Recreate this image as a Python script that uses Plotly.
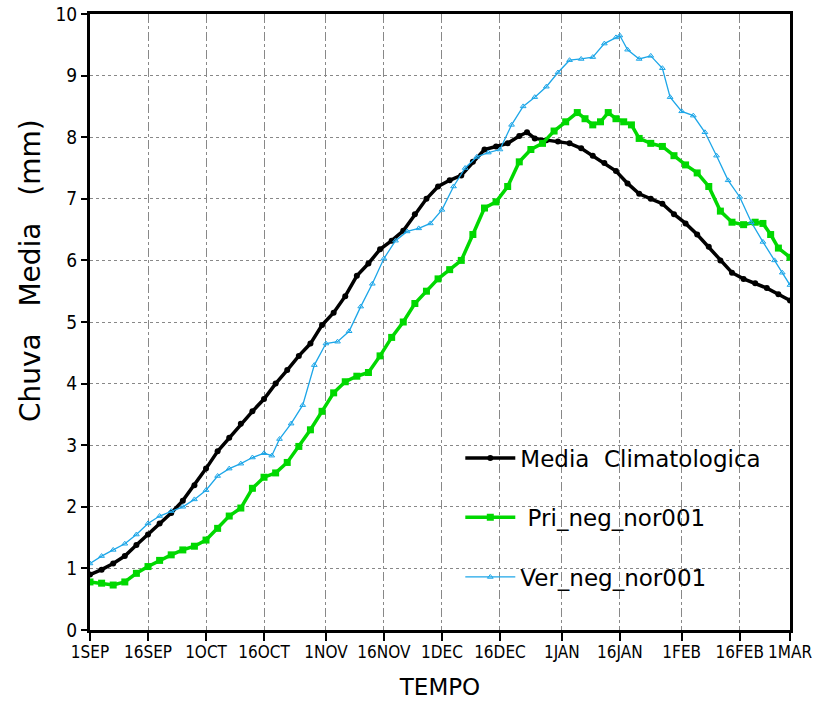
import plotly.graph_objects as go

# Day offsets from 1 September
tick_days = [0, 15, 30, 45, 61, 76, 91, 106, 122, 137, 153, 168, 181]
tick_labels = ["1SEP", "16SEP", "1OCT", "16OCT", "1NOV", "16NOV", "1DEC",
               "16DEC", "1JAN", "16JAN", "1FEB", "16FEB", "1MAR"]

media_days = [0, 3, 6, 9, 12, 15, 18, 21, 24, 27, 30, 33, 36, 39, 42, 45, 48, 51, 54, 57,
              60, 63, 66, 69, 72, 75, 78, 81, 84, 87, 90, 93, 96, 99, 102, 105, 108, 111,
              113, 115, 118, 121, 124, 127, 130, 133, 136, 139, 142, 145, 148, 151, 154,
              157, 160, 163, 166, 169, 172, 175, 178, 181]
media_vals = [0.9, 0.98, 1.08, 1.2, 1.38, 1.55, 1.73, 1.9, 2.1, 2.35, 2.62, 2.9, 3.12, 3.35,
              3.55, 3.75, 4.0, 4.22, 4.45, 4.65, 4.95, 5.15, 5.42, 5.75, 5.95, 6.18, 6.32,
              6.48, 6.75, 7.0, 7.2, 7.3, 7.38, 7.6, 7.8, 7.85, 7.9, 8.02, 8.08, 7.98, 7.95,
              7.93, 7.9, 7.82, 7.7, 7.58, 7.45, 7.25, 7.08, 7.0, 6.92, 6.75, 6.6, 6.42,
              6.22, 6.0, 5.8, 5.7, 5.63, 5.55, 5.45, 5.35]

pri_days = [0, 3, 6, 9, 12, 15, 18, 21, 24, 27, 30, 33, 36, 39, 42, 45, 48, 51, 54, 57, 60,
            63, 66, 69, 72, 75, 78, 81, 84, 87, 90, 93, 96, 99, 102, 105, 108, 111, 114,
            117, 120, 123, 126, 128, 130, 132, 134, 136, 138, 140, 142, 145, 148, 151, 154,
            157, 160, 163, 166, 169, 172, 174, 176, 178, 181]
pri_vals = [0.78, 0.76, 0.73, 0.78, 0.92, 1.03, 1.13, 1.22, 1.3, 1.36, 1.46, 1.65, 1.85,
            1.98, 2.3, 2.48, 2.55, 2.72, 2.98, 3.25, 3.55, 3.85, 4.03, 4.12, 4.18, 4.45,
            4.75, 5.0, 5.3, 5.5, 5.7, 5.85, 6.0, 6.42, 6.85, 6.95, 7.2, 7.6, 7.8, 7.9, 8.1,
            8.25, 8.4, 8.3, 8.2, 8.25, 8.4, 8.3, 8.25, 8.2, 7.98, 7.9, 7.85, 7.7, 7.55,
            7.42, 7.2, 6.8, 6.62, 6.58, 6.62, 6.6, 6.42, 6.2, 6.05]

ver_days = [0, 3, 6, 9, 12, 15, 18, 21, 24, 27, 30, 33, 36, 39, 42, 45, 47, 49, 52, 55, 58,
            61, 64, 67, 70, 73, 76, 79, 82, 85, 88, 91, 94, 97, 100, 103, 106, 109, 112,
            115, 118, 121, 124, 127, 130, 133, 136, 137, 139, 142, 145, 148, 150, 153, 156,
            159, 162, 165, 168, 171, 174, 177, 179, 181]
ver_vals = [1.08, 1.2, 1.3, 1.4, 1.55, 1.73, 1.85, 1.93, 2.0, 2.12, 2.27, 2.5, 2.62, 2.7,
            2.8, 2.87, 2.83, 3.1, 3.35, 3.65, 4.3, 4.65, 4.68, 4.85, 5.25, 5.62, 6.03, 6.32,
            6.47, 6.52, 6.6, 6.82, 7.2, 7.5, 7.68, 7.75, 7.8, 8.2, 8.5, 8.65, 8.82, 9.05,
            9.25, 9.27, 9.3, 9.52, 9.62, 9.65, 9.42, 9.27, 9.32, 9.12, 8.65, 8.42, 8.35,
            8.08, 7.7, 7.3, 7.03, 6.62, 6.3, 6.0, 5.8, 5.6]

FONT = "Liberation Sans Narrow, Arial Narrow, DejaVu Sans Condensed, Liberation Sans, sans-serif"
WIDE = "DejaVu Sans, Verdana, sans-serif"

fig = go.Figure()
fig.add_trace(go.Scatter(
    x=media_days, y=media_vals, name="Media  Climatologica", mode="lines+markers",
    line=dict(color="black", width=3.5), marker=dict(symbol="circle", size=6, color="black"),
    legend="legend"))
fig.add_trace(go.Scatter(
    x=pri_days, y=pri_vals, name=" Pri_neg_nor001", mode="lines+markers",
    line=dict(color="#00d800", width=3.5), marker=dict(symbol="square", size=7, color="#00d800"),
    legend="legend2"))
fig.add_trace(go.Scatter(
    x=ver_days, y=ver_vals, name="Ver_neg_nor001", mode="lines+markers",
    line=dict(color="#1ca6e8", width=1.3),
    marker=dict(symbol="triangle-up-open", size=5, color="#1ca6e8", line=dict(width=1)),
    legend="legend3"))

leg_common = dict(x=0.529, xanchor="left", yanchor="middle", bgcolor="rgba(0,0,0,0)",
                  font=dict(family=WIDE, size=23, color="black"), itemwidth=50)

fig.update_layout(
    width=817, height=708,
    margin=dict(l=90, r=27, t=14, b=78, autoexpand=False),
    paper_bgcolor="white", plot_bgcolor="white",
    font=dict(family=FONT, color="black"),
    showlegend=True,
    legend=dict(y=0.279, **leg_common),
    legend2=dict(y=0.183, **leg_common),
    legend3=dict(y=0.086, **leg_common),
    xaxis=dict(
        range=[0, 181], tickmode="array", tickvals=tick_days, ticktext=tick_labels,
        tickangle=0, ticks="outside", ticklen=8, tickwidth=1.5, tickcolor="black",
        showline=True, linewidth=3, linecolor="black", mirror=True, automargin=False,
        showgrid=True, gridcolor="#888888", griddash="dashdot", gridwidth=1,
        zeroline=False, tickfont=dict(size=17, family=FONT), ticklabeloverflow="allow",
        ticklabelstandoff=-3,
        title=dict(text="TEMPO", font=dict(size=23, family=WIDE), standoff=18)),
    yaxis=dict(
        range=[0, 10], tickmode="array", tickvals=list(range(11)),
        ticks="outside", ticklen=6, tickwidth=1.5, tickcolor="black",
        showline=True, linewidth=3, linecolor="black", mirror=True, automargin=False,
        showgrid=True, gridcolor="#888888", griddash="dot", gridwidth=1,
        zeroline=False, tickfont=dict(size=19, family=FONT), ticklabeloverflow="allow"),
    annotations=[dict(
        text="Chuva   Media   (mm)", textangle=-90, xref="paper", yref="paper",
        x=-0.086, y=0.584, xanchor="center", yanchor="middle", showarrow=False,
        font=dict(size=28, family=WIDE, color="black"))],
)

fig.write_html("out.html", config={"displayModeBar": False},
               post_script="document.body.style.margin='0px';document.body.style.overflow='hidden';")
